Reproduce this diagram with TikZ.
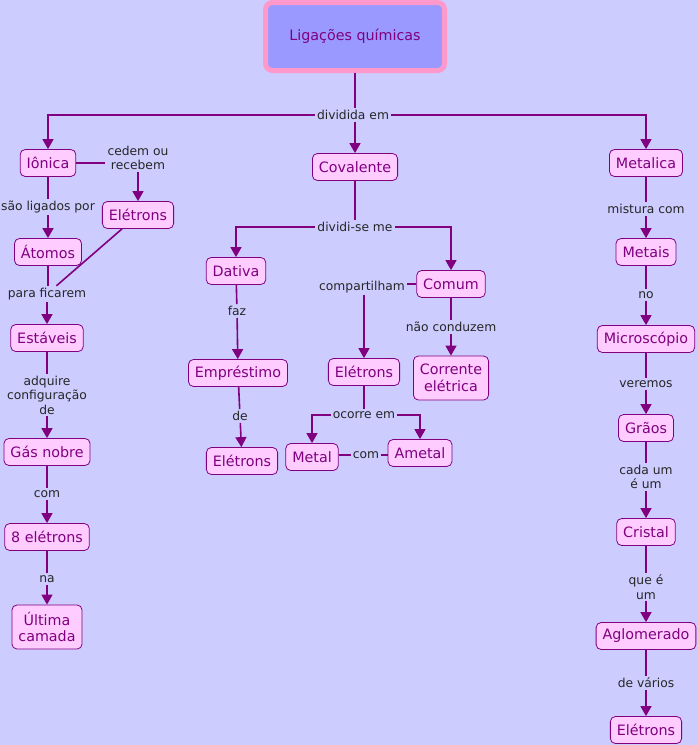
\documentclass[tikz,border=0pt]{standalone}
\usepackage{fontspec}
\setmainfont{DejaVu Sans}
\usetikzlibrary{arrows.meta,positioning,calc}
\definecolor{fundo}{HTML}{CCCCFF}
\definecolor{roxo}{HTML}{800080}
\definecolor{rosa}{HTML}{FFCCFF}
\definecolor{titfill}{HTML}{9999FF}
\definecolor{titborda}{HTML}{FF99CC}

\begin{document}
\begin{tikzpicture}[x=1pt,y=-1pt,
  conceito/.style={draw=roxo, fill=rosa, text=roxo, rounded corners=5pt, line width=0.8pt,
    font=\fontsize{14.3}{16.5}\selectfont, inner xsep=6.5pt, minimum height=27pt, align=center},
  duaslinhas/.style={conceito, minimum height=44pt},
  rotulo/.style={font=\fontsize{12.3}{14.5}\selectfont, text=black!85, inner sep=2pt, align=center},
  liga/.style={draw=roxo, line width=1.6pt},
  seta/.style={liga, -{Triangle[width=11pt,length=10pt]}}]
\fill[fundo] (0,0) rectangle (698,745);
\useasboundingbox (0,0) rectangle (698,745);

% titulo
\node[draw=titborda, fill=titfill, text=roxo, line width=5pt, rounded corners=7pt,
  minimum width=179pt, minimum height=68pt, font=\fontsize{14.3}{16.5}\selectfont] (lig) at (355,36.5) {Ligações químicas};

% conceitos
\node[conceito] (ionica) at (48,163) {Iônica};
\node[conceito] (coval) at (355,167) {Covalente};
\node[conceito] (metalica) at (646,163) {Metalica};
\node[conceito] (eletA) at (138,215) {Elétrons};
\node[conceito] (atomos) at (48,252) {Átomos};
\node[conceito] (estaveis) at (47,338) {Estáveis};
\node[conceito] (gas) at (47,452) {Gás nobre};
\node[conceito] (oito) at (47,537) {8 elétrons};
\node[duaslinhas] (ultima) at (47,627) {Última\\camada};
\node[conceito] (dativa) at (236,271) {Dativa};
\node[conceito] (comum) at (451,284) {Comum};
\node[conceito] (empr) at (238,373) {Empréstimo};
\node[conceito] (eletB) at (364,372) {Elétrons};
\node[duaslinhas] (corr) at (451,378) {Corrente\\elétrica};
\node[conceito] (eletC) at (242,461) {Elétrons};
\node[conceito] (metal) at (312,457) {Metal};
\node[conceito] (ametal) at (420,453) {Ametal};
\node[conceito] (metais) at (646,252) {Metais};
\node[conceito] (micro) at (646,339) {Microscópio};
\node[conceito] (graos) at (646,428) {Grãos};
\node[conceito] (cristal) at (646,532) {Cristal};
\node[conceito] (aglom) at (646,636) {Aglomerado};
\node[conceito] (eletD) at (646,730) {Elétrons};

% frases de ligacao
\node[rotulo] (divid) at (353,115) {dividida em};
\node[rotulo] (cedem) at (138,158) {cedem ou\\recebem};
\node[rotulo] (sao) at (48,207) {são ligados por};
\node[rotulo] (para) at (47,294) {para ficarem};
\node[rotulo] (adq) at (47,395) {adquire\\configuração\\de};
\node[rotulo] (com) at (47,494) {com};
\node[rotulo] (na) at (47,579) {na};
\node[rotulo] (divse) at (355,227) {dividi-se me};
\node[rotulo] (faz) at (237,311) {faz};
\node[rotulo] (comp) at (362,287) {compartilham};
\node[rotulo] (nao) at (451,327) {não conduzem};
\node[rotulo] (de) at (240,416) {de};
\node[rotulo] (ocorre) at (364,415) {ocorre em};
\node[rotulo] (comB) at (366,455) {com};
\node[rotulo] (mist) at (646,209) {mistura com};
\node[rotulo] (no) at (646,295) {no};
\node[rotulo] (ver) at (646,384) {veremos};
\node[rotulo] (cada) at (646,477) {cada um\\é um};
\node[rotulo] (que) at (646,587) {que é\\um};
\node[rotulo] (devar) at (646,683) {de vários};

% ligacoes
\draw[liga] (lig) -- (lig |- divid.north);
\draw[seta] (divid.west) -| (ionica.north);
\draw[seta] (divid.south -| lig) -- (coval);
\draw[seta] (divid.east) -| (metalica.north);
\draw[liga] (ionica.east) -- (ionica.east -| cedem.west);
\draw[seta] (cedem) -- (eletA);
\draw[liga] (eletA) -- (para);
\draw[liga] (coval) -- (divse);
\draw[seta] (divse.west) -| (dativa.north);
\draw[seta] (divse.east) -| (comum.north);
\draw[liga] (comum.west) -- (comum.west -| comp.east);
\draw[seta] (comp.south -| eletB) -- (eletB);
\draw[liga] (eletB) -- (ocorre);
\draw[seta] (ocorre.west) -| (metal.north);
\draw[seta] (ocorre.east) -| (ametal.north);
\draw[liga] (metal.east |- comB) -- (comB.west);
\draw[liga] (comB.east) -- (ametal.west |- comB);
\draw[liga] (atomos) -- (atomos |- para.north);
\draw[seta] (para.south -| estaveis) -- (estaveis);
\foreach \a/\l/\b in {ionica/sao/atomos, estaveis/adq/gas, gas/com/oito,
    oito/na/ultima, dativa/faz/empr, empr/de/eletC, comum/nao/corr,
    metalica/mist/metais, metais/no/micro, micro/ver/graos, graos/cada/cristal,
    cristal/que/aglom, aglom/devar/eletD} {
  \draw[liga] (\a) -- (\l);
  \draw[seta] (\l) -- (\b);
}
\end{tikzpicture}
\end{document}
